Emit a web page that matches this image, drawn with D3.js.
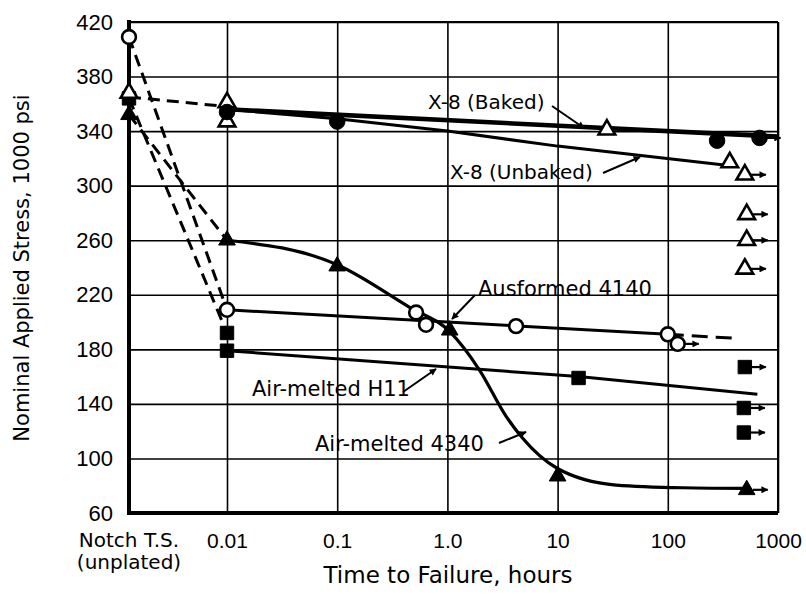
<!DOCTYPE html>
<html>
<head>
<meta charset="utf-8">
<script src="https://cdn.jsdelivr.net/npm/d3@7"></script>
<style>
  body { margin: 0; background: #fff; }
  svg { display: block; font-family: "DejaVu Sans", sans-serif; }
  .grid line { stroke: #000; stroke-width: 1.6; }
  .grid path { display: none; }
  .grid text { font-size: 21px; fill: #000; }
</style>
</head>
<body>
<div id="chart"></div>
<script>
// Données (contrainte en 1000 psi, temps en heures)
const NOTCH = "notch";
const yTicks = [60, 100, 140, 180, 220, 260, 300, 340, 380, 420];
const xTickValues = [0.01, 0.1, 1, 10, 100, 1000];
const xTickLabels = ["0.01", "0.1", "1.0", "10", "100", "1000"];
const notchLabel = ["Notch T.S.", "(unplated)"];

// X-8 (Baked) : cercles pleins
const bakedTimes  = [0.01, 0.1, 280, 680];
const bakedStress = [354, 347, 333, 335];
const bakedRunout = [false, false, false, true];
const bakedLine   = [[0.01, 356], [1000, 336]];

// X-8 (Unbaked) : triangles vides
const unbakedTimes  = [NOTCH, 0.01, 0.01, 28, 365, 500, 520, 520, 500];
const unbakedStress = [368, 361, 347, 341, 317, 308, 279, 260, 239];
const unbakedRunout = [false, false, false, false, false, true, true, true, true];
const unbakedLine   = [[0.01, 356], [0.1, 349], [1, 340], [10, 329], [340, 315]];
const x8Dashed      = [[NOTCH, 365], [0.01, 358]];

// Ausformed 4140 : cercles vides
const ausTimes  = [NOTCH, 0.01, 0.52, 0.64, 4.2, 100, 123];
const ausStress = [409, 209, 207, 198, 197, 191, 184];
const ausRunout = [false, false, false, false, false, false, true];
const ausLine   = [[0.01, 209], [100, 191]];
const ausTail   = [[100, 191], [430, 188]];
const ausDashed = [[NOTCH, 409], [0.01, 209]];

// Air-melted H11 : carrés pleins
const h11Times  = [NOTCH, 0.01, 0.01, 15.5, 500, 490, 490];
const h11Stress = [364, 192, 179, 159, 167, 137, 119];
const h11Runout = [false, false, false, false, true, true, true];
const h11Line   = [[0.01, 179], [15.5, 160], [650, 147]];
const h11Dashed = [[NOTCH, 364], [0.01, 192]];

// Air-melted 4340 : triangles pleins
const a4340Times  = [NOTCH, 0.01, 0.1, 1.05, 10, 520];
const a4340Stress = [352, 260, 241, 194, 87, 77];
const a4340Runout = [false, false, false, false, false, true];
const a4340Curve  = [[0.01, 260], [0.1, 242], [0.45, 211], [1.05, 193], [1.95, 165],
                     [3.4, 131], [4.8, 115], [9.8, 93], [34, 80.5], [137, 78.5], [560, 78]];
const a4340Dashed = [[NOTCH, 352], [0.01, 260]];

// Dimensions
const W = 806, H = 594;
const margin = { top: 22, right: 28, bottom: 81, left: 129 };
const plotW = W - margin.left - margin.right;
const plotH = H - margin.top - margin.bottom;

const svg = d3.select("#chart").append("svg")
  .attr("width", W).attr("height", H);

// Echelles
const y = d3.scaleLinear().domain([60, 420]).range([margin.top + plotH, margin.top]);
const xLog = d3.scaleLog().domain([0.01, 1000]).range([227, margin.left + plotW]);
const xPos = t => t === NOTCH ? margin.left : xLog(t);

// Flèche
const defs = svg.append("defs");
defs.append("marker").attr("id", "arrow")
  .attr("viewBox", "0 0 10 10").attr("refX", 9).attr("refY", 5)
  .attr("markerWidth", 9).attr("markerHeight", 7).attr("markerUnits", "userSpaceOnUse")
  .attr("orient", "auto")
  .append("path").attr("d", "M0,0 L10,5 L0,10 z").attr("fill", "#000");

// Grille et axes
svg.append("g").attr("class", "grid")
  .attr("transform", `translate(${margin.left},0)`)
  .call(d3.axisLeft(y).tickValues(yTicks).tickSize(-plotW).tickPadding(16).tickFormat(d3.format("d")))
  .selectAll("text").attr("font-size", 22).style("font-size", "22px");

svg.append("g").attr("class", "grid")
  .attr("transform", `translate(0,${margin.top + plotH})`)
  .call(d3.axisBottom(xLog).tickValues(xTickValues).tickSize(-plotH).tickPadding(20)
    .tickFormat((d, i) => xTickLabels[i]));

// Cadre
svg.append("line").attr("x1", margin.left).attr("x2", margin.left + plotW)
  .attr("y1", margin.top).attr("y2", margin.top).attr("stroke", "#000").attr("stroke-width", 2);
svg.append("line").attr("x1", margin.left + plotW).attr("x2", margin.left + plotW)
  .attr("y1", margin.top).attr("y2", margin.top + plotH).attr("stroke", "#000").attr("stroke-width", 2);
svg.append("line").attr("x1", margin.left).attr("x2", margin.left)
  .attr("y1", margin.top - 2).attr("y2", margin.top + plotH + 2).attr("stroke", "#000").attr("stroke-width", 4);
svg.append("line").attr("x1", margin.left - 2).attr("x2", margin.left + plotW)
  .attr("y1", margin.top + plotH).attr("y2", margin.top + plotH).attr("stroke", "#000").attr("stroke-width", 4);

// Etiquette de la catégorie "Notch T.S."
notchLabel.forEach((s, i) => {
  svg.append("text").attr("x", margin.left).attr("y", 547 + i * 22)
    .attr("text-anchor", "middle").attr("font-size", 20).text(s);
});

// Titres des axes
svg.append("text").attr("x", 448).attr("y", 583).attr("text-anchor", "middle")
  .attr("font-size", 23).text("Time to Failure, hours");
svg.append("text").attr("transform", "translate(29,268) rotate(-90)")
  .attr("text-anchor", "middle").attr("font-size", 21)
  .text("Nominal Applied Stress, 1000 psi");

// Courbes
const lineGen = d3.line().x(d => xPos(d[0])).y(d => y(d[1]));
const curveGen = d3.line().x(d => xPos(d[0])).y(d => y(d[1])).curve(d3.curveMonotoneX);
const gLines = svg.append("g").attr("fill", "none").attr("stroke", "#000");

const dash = "12,7";
[x8Dashed, ausDashed, h11Dashed, a4340Dashed].forEach(p => {
  gLines.append("path").attr("d", lineGen(p)).attr("stroke-width", 3).attr("stroke-dasharray", dash);
});
gLines.append("path").attr("d", lineGen(ausTail)).attr("stroke-width", 3).attr("stroke-dasharray", "16,8");

gLines.append("path").attr("d", lineGen(bakedLine)).attr("stroke-width", 4.5);
gLines.append("path").attr("d", lineGen(unbakedLine)).attr("stroke-width", 3);
gLines.append("path").attr("d", lineGen(ausLine)).attr("stroke-width", 3);
gLines.append("path").attr("d", lineGen(h11Line)).attr("stroke-width", 3);
gLines.append("path").attr("d", curveGen(a4340Curve)).attr("stroke-width", 3.2);

// Points
function drawSeries(times, stress, runout, shape, filled) {
  const data = times.map((t, i) => ({ t, s: stress[i], r: runout[i] }));
  const g = svg.append("g");
  const sym = d3.symbol().type(shape === "circle" ? d3.symbolCircle :
    shape === "square" ? d3.symbolSquare : d3.symbolTriangle)
    .size(shape === "circle" ? (filled ? 190 : 150) : shape === "square" ? 180 : 120);
  // flèches (essais interrompus)
  g.selectAll("line.run").data(data.filter(d => d.r)).enter().append("line")
    .attr("x1", d => xPos(d.t) + 6).attr("x2", d => xPos(d.t) + 21)
    .attr("y1", d => y(d.s)).attr("y2", d => y(d.s))
    .attr("stroke", "#000").attr("stroke-width", 2.2).attr("marker-end", "url(#arrow)");
  g.selectAll("path.pt").data(data).enter().append("path")
    .attr("transform", d => `translate(${xPos(d.t)},${y(d.s)})`)
    .attr("d", sym)
    .attr("fill", filled ? "#000" : "#fff")
    .attr("stroke", "#000").attr("stroke-width", filled ? 1 : 2.6);
}

drawSeries(a4340Times, a4340Stress, a4340Runout, "triangle", true);
drawSeries(h11Times, h11Stress, h11Runout, "square", true);
drawSeries(unbakedTimes, unbakedStress, unbakedRunout, "triangle", false);
drawSeries(bakedTimes, bakedStress, bakedRunout, "circle", true);
drawSeries(ausTimes, ausStress, ausRunout, "circle", false);

// Etiquettes des séries avec flèches
const labels = [
  { text: "X-8 (Baked)",     x: 428, y: 109, size: 20, from: [552, 106], to: [584, 128] },
  { text: "X-8 (Unbaked)",   x: 450, y: 179, size: 20, from: [603, 173], to: [640, 157] },
  { text: "Ausformed 4140",  x: 478, y: 296, size: 21, from: [475, 295], to: [452, 319] },
  { text: "Air-melted H11",  x: 252, y: 396, size: 21, from: [403, 392], to: [436, 369] },
  { text: "Air-melted 4340", x: 315, y: 451, size: 21, from: [499, 443], to: [526, 432] }
];
const gLab = svg.append("g");
labels.forEach(l => {
  gLab.append("text").attr("x", l.x).attr("y", l.y).attr("font-size", l.size).text(l.text);
  gLab.append("line").attr("x1", l.from[0]).attr("y1", l.from[1])
    .attr("x2", l.to[0]).attr("y2", l.to[1])
    .attr("stroke", "#000").attr("stroke-width", 2).attr("marker-end", "url(#arrow)");
});
</script>
</body>
</html>
